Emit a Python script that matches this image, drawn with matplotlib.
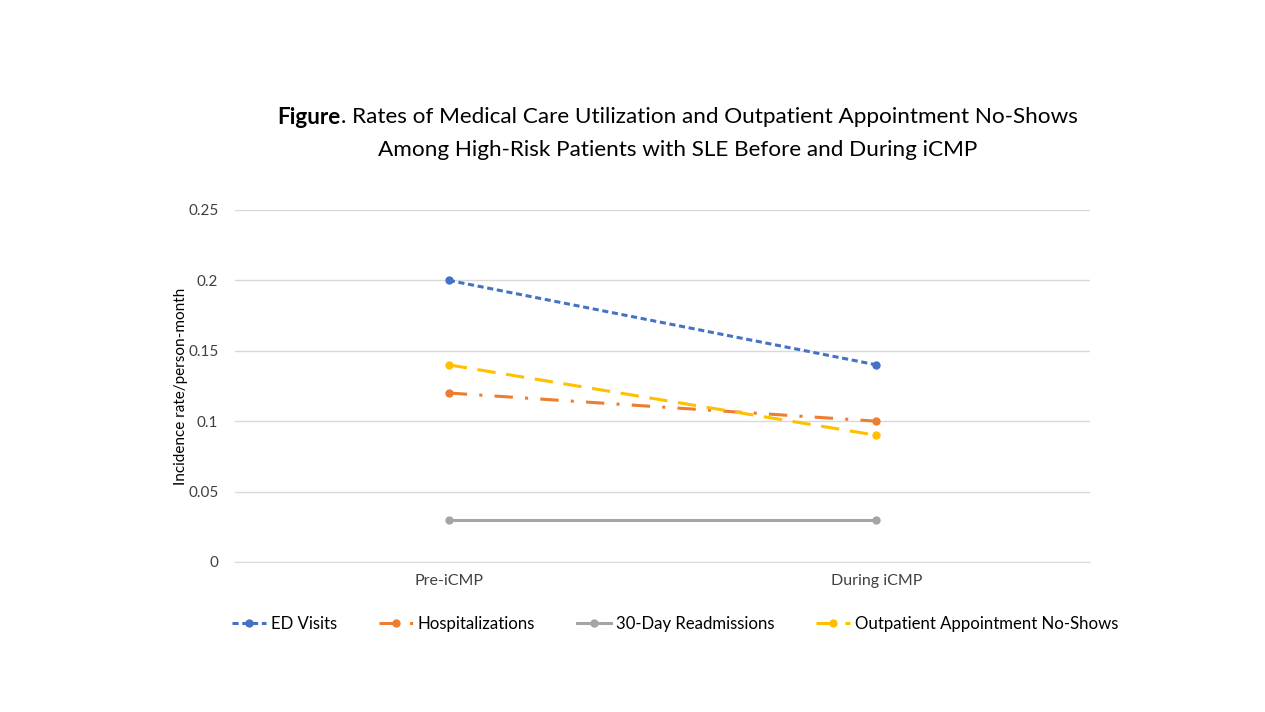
import matplotlib.pyplot as plt

# Data
categories = ["Pre-iCMP", "During iCMP"]
ed_visits = [0.20, 0.14]
hospitalizations = [0.12, 0.10]
readmissions = [0.03, 0.03]
no_shows = [0.14, 0.09]
y_ticks = [0, 0.05, 0.1, 0.15, 0.2, 0.25]
y_tick_labels = ["0", "0.05", "0.1", "0.15", "0.2", "0.25"]

plt.rcParams["font.family"] = ["Lato", "DejaVu Sans"]

fig = plt.figure(figsize=(12.65, 7.12), dpi=100)
ax = fig.add_axes([0.1858, 0.2107, 0.676, 0.4944])

x = range(len(categories))
ax.plot(x, ed_visits, color="#4472C4", lw=2.2, linestyle=(0, (2, 1.2)),
        marker="o", ms=5, label="ED Visits")
ax.plot(x, hospitalizations, color="#ED7D31", lw=2.2,
        linestyle=(0, (6, 4, 1, 4)), marker="o", ms=5, label="Hospitalizations")
ax.plot(x, readmissions, color="#A5A5A5", lw=2.2, linestyle="-",
        marker="o", ms=5, label="30-Day Readmissions")
ax.plot(x, no_shows, color="#FFC000", lw=2.2, linestyle=(0, (6, 3.5)),
        marker="o", ms=5, label="Outpatient Appointment No-Shows")

ax.set_xlim(-0.5, 1.5)
ax.set_ylim(0, 0.25)
ax.set_xticks(list(x))
ax.set_xticklabels(categories, fontsize=11.5, color="#404040")
ax.set_yticks(y_ticks)
ax.set_yticklabels(y_tick_labels, fontsize=11, color="#404040")
ax.tick_params(length=0, pad=12)
ax.tick_params(axis="x", pad=9)
ax.grid(axis="y", color="#D9D9D9", lw=1)
ax.set_axisbelow(True)
for s in ["top", "right", "left"]:
    ax.spines[s].set_visible(False)
ax.spines["bottom"].set_color("#D9D9D9")
ax.set_ylabel("Incidence rate/person-month", fontsize=11, color="#000000", labelpad=0)

# Title: bold "Figure" followed by regular text, centred as one line
title_size = 16.2
renderer = fig.canvas.get_renderer()
t_bold = fig.text(0, 0.835, "Figure", fontsize=title_size, fontweight="bold",
                  va="center", ha="left")
t_rest = fig.text(0, 0.835, ". Rates of Medical Care Utilization and Outpatient Appointment No-Shows",
                  fontsize=title_size, va="center", ha="left")
w_bold = t_bold.get_window_extent(renderer).width / fig.bbox.width
w_rest = t_rest.get_window_extent(renderer).width / fig.bbox.width
x0 = 0.5355 - (w_bold + w_rest) / 2
t_bold.set_x(x0)
t_rest.set_x(x0 + w_bold)
fig.text(0.5355, 0.789, "Among High-Risk Patients with SLE Before and During iCMP",
         ha="center", va="center", fontsize=title_size)

ax.legend(loc="center", bbox_to_anchor=(0.515, -0.176), ncol=4, frameon=False,
          fontsize=12.1, handlelength=2.0, columnspacing=2.5, handletextpad=0.3)

fig.savefig("out.png", dpi=100)
